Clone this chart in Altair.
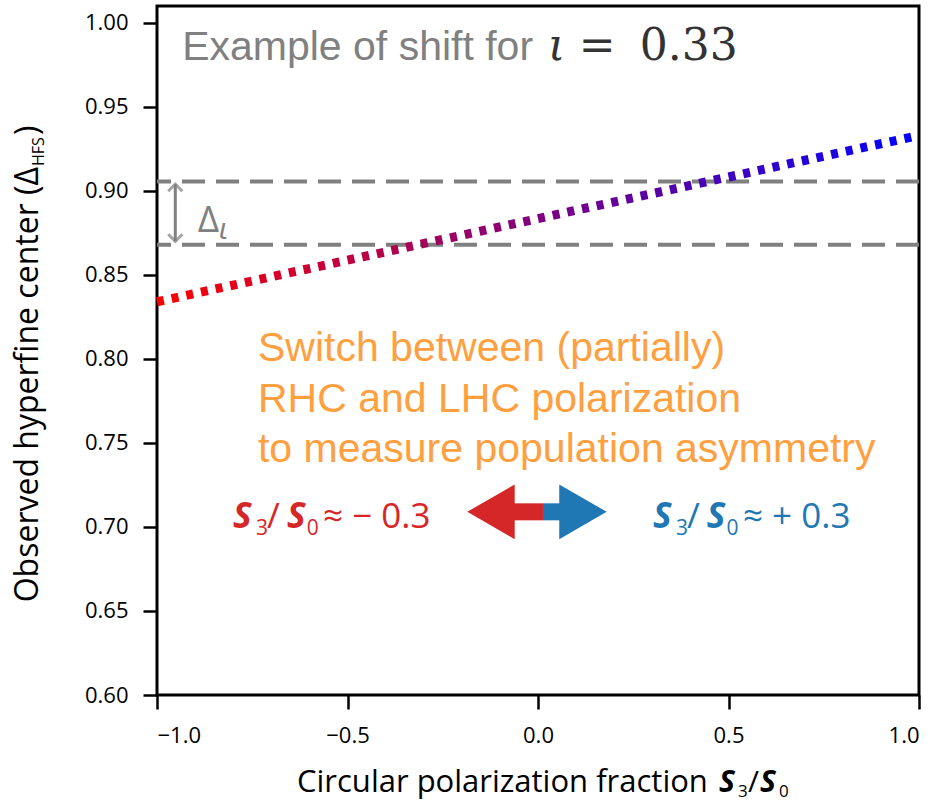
import altair as alt
import pandas as pd

# ---------------- data ----------------
x_domain = [-1.0, 1.0]
y_domain = [0.60, 1.01]
x_ticks = [-1.0, -0.5, 0.0, 0.5, 1.0]
y_ticks = [0.60, 0.65, 0.70, 0.75, 0.80, 0.85, 0.90, 0.95, 1.00]

# observed centre vs circular polarization fraction
line_x = [-1.0, 1.0]
line_y = [0.834, 0.933]

# dashed reference levels (shift for iota = 0.33)
ref_levels = [0.9055, 0.868]

# Delta_iota double arrow
delta_x = [-0.952]
delta_y = [0.904, 0.870]
delta_label_x = [-0.893]
delta_label_y = [0.8756]
delta_sub_x = [-0.838]
delta_sub_y = [0.8712]

# title inside the plot
title_text = ["Example of shift for"]
title_x = [-0.934]
title_y = [0.978]
iota_x = [0.026]
eq_text = ["=", "0.33"]
eq_x = [0.107, 0.267]

# orange annotation
switch_lines = ["Switch between (partially)", "RHC and LHC polarization",
                "to measure population asymmetry"]
switch_x = [-0.735, -0.735, -0.735]
switch_y = [0.7985, 0.7685, 0.7385]

# S3/S0 labels (red / blue)
pol_colors = ["#d62728", "#1f77b4"]
pol_S_x = [[-0.8005, -0.659], [0.302, 0.443]]
pol_sub_text = ["3", "0"]
pol_sub_x = [[-0.740, -0.607], [0.362, 0.495]]
pol_slash_x = [-0.711, 0.391]
pol_rest_text = ["≈ − 0.3", "≈ + 0.3"]
pol_rest_x = [-0.564, 0.538]
pol_y = 0.6994
pol_sub_y = 0.6955

# double-headed polarization arrow
arrow_y = 0.709
arrow_head_x = [-0.1234, 0.118]
arrow_shaft_x = [[-0.07, 0.013], [0.013, 0.06]]

# axis titles (pieces so that subscripts / bold italic S can be shown)
xtitle_main = ["Circular polarization fraction"]
xtitle_S_px = [562, 603]
xtitle_sub = ["3", "0"]
xtitle_sub_px = [581, 622]
xtitle_slash_px = [591]
ytitle_main = ["Observed hyperfine center (Δ"]
ytitle_sub = ["HFS"]
ytitle_close = [")"]

# ---------------- chart ----------------
xs = alt.Scale(domain=x_domain, nice=False, zero=False)
ys = alt.Scale(domain=y_domain, nice=False, zero=False)
x_axis = alt.Axis(values=x_ticks, format=".1f", title=None,
                  labelFont="Open Sans", labelFontSize=22, labelColor="black",
                  labelPadding=16, tickSize=14, tickWidth=2.5, tickColor="black",
                  domain=False, grid=False)
y_axis = alt.Axis(values=y_ticks, format=".2f", title=None,
                  labelFont="Open Sans", labelFontSize=22, labelColor="black",
                  labelPadding=15, tickSize=14, tickWidth=2.5, tickColor="black",
                  domain=False, grid=False)


def X(f):
    return alt.X(f, type="quantitative", scale=xs, axis=x_axis)


def Y(f):
    return alt.Y(f, type="quantitative", scale=ys, axis=y_axis)


gradient = alt.Gradient(
    gradient="linear",
    stops=[alt.GradientStop(color="#ff0000", offset=0),
           alt.GradientStop(color="#0000ff", offset=1)],
    x1=0, x2=1, y1=0, y2=0,
)

line_df = pd.DataFrame({"x": line_x, "y": line_y})
main_line = alt.Chart(line_df).mark_line(
    stroke=gradient, strokeWidth=9, strokeDash=[7, 8], strokeCap="butt"
).encode(x=X("x"), y=Y("y"))

ref_df = pd.DataFrame({"y": ref_levels})
ref_rules = alt.Chart(ref_df).mark_rule(
    color="#808080", strokeWidth=4, strokeDash=[23, 11]
).encode(y=Y("y"))

dA = pd.DataFrame({"x": delta_x, "y": [delta_y[0]], "y2": [delta_y[1]]})
delta_shaft = alt.Chart(dA).mark_rule(color="#808080", strokeWidth=3).encode(
    x=X("x"), y=Y("y"), y2="y2")
dTop = pd.DataFrame({"x": delta_x, "y": [delta_y[0]]})
dBot = pd.DataFrame({"x": delta_x, "y": [delta_y[1]]})
delta_top = alt.Chart(dTop).mark_point(
    shape="M -1 1 L 0 0 L 1 1", filled=False, stroke="#808080", strokeWidth=3, size=200
).encode(x=X("x"), y=Y("y"))
delta_bot = alt.Chart(dBot).mark_point(
    shape="M -1 -1 L 0 0 L 1 -1", filled=False, stroke="#808080", strokeWidth=3, size=200
).encode(x=X("x"), y=Y("y"))

delta_lab = alt.Chart(pd.DataFrame({"x": delta_label_x, "y": delta_label_y, "t": ["Δ"]})).mark_text(
    font="Open Sans", fontSize=37, color="#808080", align="left", baseline="alphabetic"
).encode(x=X("x"), y=Y("y"), text="t:N")
delta_sub = alt.Chart(pd.DataFrame({"x": delta_sub_x, "y": delta_sub_y, "t": ["ι"]})).mark_text(
    font="Open Sans", fontSize=30, fontStyle="italic", color="#808080", align="left",
    baseline="alphabetic"
).encode(x=X("x"), y=Y("y"), text="t:N")

title_lab = alt.Chart(pd.DataFrame({"x": title_x, "y": title_y, "t": title_text})).mark_text(
    font="Liberation Sans", fontSize=41, color="#808080", align="left", baseline="alphabetic"
).encode(x=X("x"), y=Y("y"), text="t:N")
iota_lab = alt.Chart(pd.DataFrame({"x": iota_x, "y": title_y, "t": ["ι"]})).mark_text(
    font="DejaVu Serif", fontSize=44, fontStyle="italic", color="#333333", align="left",
    baseline="alphabetic"
).encode(x=X("x"), y=Y("y"), text="t:N")
eq_lab = alt.Chart(pd.DataFrame({"x": eq_x, "y": title_y * 2, "t": eq_text})).mark_text(
    font="DejaVu Serif", fontSize=44, color="#333333", align="left", baseline="alphabetic"
).encode(x=X("x"), y=Y("y"), text="t:N")

switch_lab = alt.Chart(pd.DataFrame({"x": switch_x, "y": switch_y, "t": switch_lines})).mark_text(
    font="Liberation Sans", fontSize=41, color="#ffa040", align="left", baseline="alphabetic"
).encode(x=X("x"), y=Y("y"), text="t:N")

# S3/S0 pieces
S_rows, sub_rows, norm_rows = [], [], []
for i, c in enumerate(pol_colors):
    for k in range(2):
        S_rows.append({"x": pol_S_x[i][k], "y": pol_y, "t": "S", "c": c})
        sub_rows.append({"x": pol_sub_x[i][k], "y": pol_sub_y, "t": pol_sub_text[k], "c": c})
    norm_rows.append({"x": pol_slash_x[i], "y": pol_y, "t": "/", "c": c})
    norm_rows.append({"x": pol_rest_x[i], "y": pol_y, "t": pol_rest_text[i], "c": c})

S_lab = alt.Chart(pd.DataFrame(S_rows)).mark_text(
    font="Open Sans", fontSize=35, fontWeight="bold", fontStyle="italic",
    align="left", baseline="alphabetic"
).encode(x=X("x"), y=Y("y"), text="t:N", color=alt.Color("c:N", scale=None))
sub_lab = alt.Chart(pd.DataFrame(sub_rows)).mark_text(
    font="Open Sans", fontSize=21, align="left", baseline="alphabetic"
).encode(x=X("x"), y=Y("y"), text="t:N", color=alt.Color("c:N", scale=None))
norm_lab = alt.Chart(pd.DataFrame(norm_rows)).mark_text(
    font="Open Sans", fontSize=35, align="left", baseline="alphabetic"
).encode(x=X("x"), y=Y("y"), text="t:N", color=alt.Color("c:N", scale=None))

shaft_df = pd.DataFrame({
    "x": [s[0] for s in arrow_shaft_x], "x2": [s[1] for s in arrow_shaft_x],
    "y": [arrow_y, arrow_y], "c": pol_colors})
shafts = alt.Chart(shaft_df).mark_rule(strokeWidth=17, strokeCap="butt").encode(
    x=X("x"), x2="x2", y=Y("y"), color=alt.Color("c:N", scale=None))
head_left = alt.Chart(pd.DataFrame({"x": [arrow_head_x[0]], "y": [arrow_y]})).mark_point(
    shape="triangle-left", filled=True, size=3000, color=pol_colors[0], opacity=1, strokeWidth=0
).encode(x=X("x"), y=Y("y"))
head_right = alt.Chart(pd.DataFrame({"x": [arrow_head_x[1]], "y": [arrow_y]})).mark_point(
    shape="triangle-right", filled=True, size=3000, color=pol_colors[1], opacity=1, strokeWidth=0
).encode(x=X("x"), y=Y("y"))

# x-axis title drawn as text pieces (pixel offsets from plot's left/top)
xt_main = alt.Chart(pd.DataFrame({"t": xtitle_main})).mark_text(
    font="Open Sans", fontSize=31, align="left", baseline="alphabetic", color="black"
).encode(x=alt.value(140), y=alt.value(786), text="t:N")
xt_S = alt.Chart(pd.DataFrame({"px": xtitle_S_px, "t": ["S", "S"]})).mark_text(
    font="Open Sans", fontSize=30, fontWeight="bold", fontStyle="italic",
    align="left", baseline="alphabetic", color="black"
).encode(x=alt.X("px:Q", scale=None), y=alt.value(786), text="t:N")
xt_sub = alt.Chart(pd.DataFrame({"px": xtitle_sub_px, "t": xtitle_sub})).mark_text(
    font="Open Sans", fontSize=17, align="left", baseline="alphabetic", color="black"
).encode(x=alt.X("px:Q", scale=None), y=alt.value(791), text="t:N")
xt_slash = alt.Chart(pd.DataFrame({"px": xtitle_slash_px, "t": ["/"]})).mark_text(
    font="Open Sans", fontSize=30, align="left", baseline="alphabetic", color="black"
).encode(x=alt.X("px:Q", scale=None), y=alt.value(786), text="t:N")

# y-axis title drawn as text so the subscript can be shown
ytitle = alt.Chart(pd.DataFrame({"t": ytitle_main})).mark_text(
    font="Open Sans", fontSize=32, angle=270, align="right", baseline="alphabetic",
    color="black"
).encode(x=alt.value(-119), y=alt.value(161), text="t:N")
ysub = alt.Chart(pd.DataFrame({"t": ytitle_sub})).mark_text(
    font="Open Sans", fontSize=16, angle=270, align="left", baseline="alphabetic",
    color="black"
).encode(x=alt.value(-113), y=alt.value(160), text="t:N")
yparen = alt.Chart(pd.DataFrame({"t": ytitle_close})).mark_text(
    font="Open Sans", fontSize=32, angle=270, align="left", baseline="alphabetic",
    color="black"
).encode(x=alt.value(-119), y=alt.value(129), text="t:N")

chart = alt.layer(
    ref_rules, main_line, delta_shaft, delta_top, delta_bot, delta_lab, delta_sub,
    title_lab, iota_lab, eq_lab, switch_lab, shafts, head_left, head_right,
    S_lab, sub_lab, norm_lab, xt_main, xt_S, xt_sub, xt_slash, ytitle, ysub, yparen
).properties(
    width=762, height=689,
    autosize=alt.AutoSizeParams(type="none"),
    padding={"left": 157, "top": 6, "right": 26, "bottom": 115},
    background="white",
).configure_view(stroke="black", strokeWidth=3)

chart.save("out.html", embed_options={"renderer": "svg", "actions": False})
